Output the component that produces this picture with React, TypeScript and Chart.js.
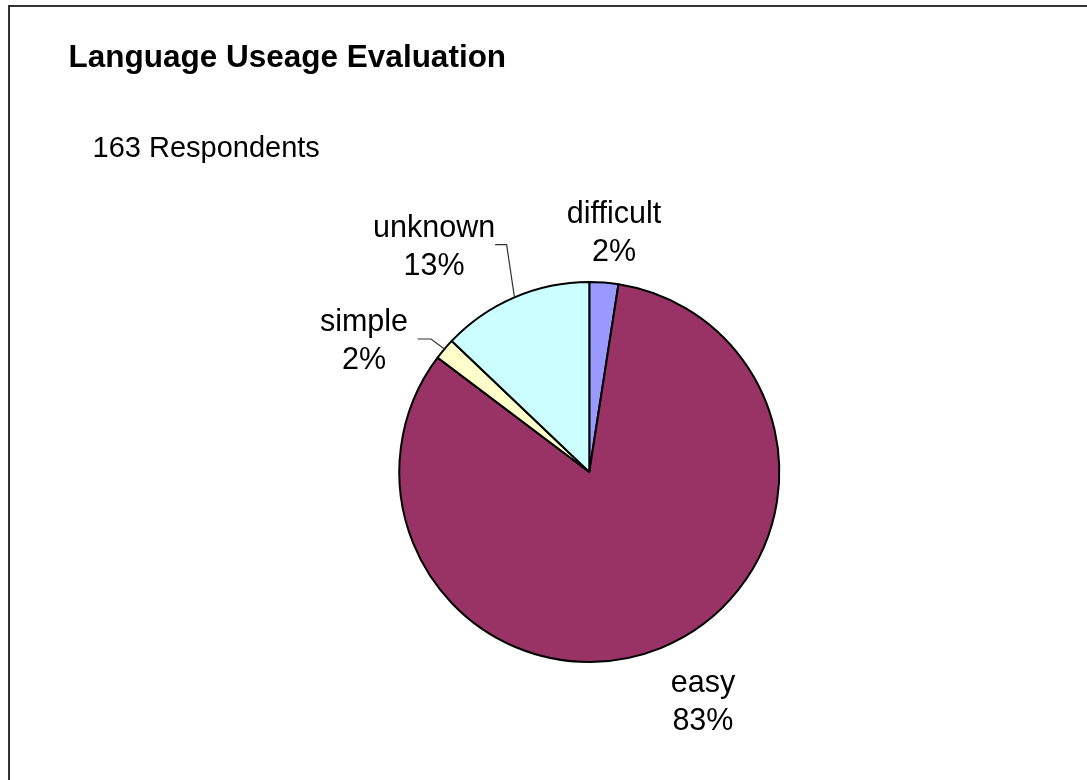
import React, { useEffect, useRef } from "react";
import { Chart, registerables } from "chart.js";

Chart.register(...registerables);

const categories = ["difficult", "easy", "simple", "unknown"];
const respondents = [4, 135, 3, 21];
const sliceColors = ["#9999FF", "#993366", "#FFFFCC", "#CCFFFF"];
const chartTitle = "Language Useage Evaluation";
const chartSubtitle = "163 Respondents";

// label block centres, as fractions of the pie radius from the pie centre
const labelOffsets: [number, number][] = [
  [0.13, -1.271],
  [0.598, 1.2],
  [-1.186, -0.7],
  [-0.817, -1.197],
];
// leader lines (gap from text edge, length of horizontal segment)
const leaders: ({ gap: number; knee: number } | null)[] = [
  null,
  null,
  { gap: 9.5, knee: 13.5 },
  { gap: 0, knee: 11.5 },
];

const FONT = "'Liberation Sans', Arial, sans-serif";

const decorPlugin = {
  id: "decor",
  beforeDraw(chart: any) {
    const ctx = chart.ctx;
    ctx.save();
    ctx.fillStyle = "#ffffff";
    ctx.fillRect(0, 0, chart.width, chart.height);
    ctx.strokeStyle = "#333333";
    ctx.lineWidth = 2;
    ctx.strokeRect(9, 6, 2000, 2000);
    ctx.fillStyle = "#000000";
    ctx.textAlign = "left";
    ctx.textBaseline = "alphabetic";
    ctx.font = `bold 31.5px ${FONT}`;
    ctx.fillText(chartTitle, 68.5, 67);
    ctx.font = `29px ${FONT}`;
    ctx.fillText(chartSubtitle, 92.5, 157);
    ctx.restore();
  },
  afterDraw(chart: any) {
    const ctx = chart.ctx;
    const meta = chart.getDatasetMeta(0);
    const data = chart.data.datasets[0].data as number[];
    const total = data.reduce((a, b) => a + b, 0);
    ctx.save();
    ctx.font = `30.5px ${FONT}`;
    ctx.fillStyle = "#000000";
    ctx.textAlign = "center";
    ctx.textBaseline = "alphabetic";
    meta.data.forEach((arc: any, i: number) => {
      const p = arc.getProps(["x", "y", "startAngle", "endAngle", "outerRadius"], true);
      const r = p.outerRadius;
      const ax = p.x + labelOffsets[i][0] * r;
      const ay = p.y + labelOffsets[i][1] * r;
      const line1 = String(chart.data.labels[i]);
      const line2 = Math.round((data[i] / total) * 100) + "%";
      ctx.fillText(line1, ax, ay - 8);
      ctx.fillText(line2, ax, ay + 30);
      const ld = leaders[i];
      if (ld) {
        const hw = Math.max(ctx.measureText(line1).width, ctx.measureText(line2).width) / 2;
        const mid = (p.startAngle + p.endAngle) / 2;
        const ex = p.x + Math.cos(mid) * r;
        const ey = p.y + Math.sin(mid) * r;
        const sx = ax + hw + ld.gap;
        ctx.strokeStyle = "#333333";
        ctx.lineWidth = 1.2;
        ctx.beginPath();
        ctx.moveTo(sx, ay);
        ctx.lineTo(sx + ld.knee, ay);
        ctx.lineTo(ex, ey);
        ctx.stroke();
      }
    });
    ctx.restore();
  },
};

export default function App() {
  const canvasRef = useRef<HTMLCanvasElement | null>(null);

  useEffect(() => {
    const canvas = canvasRef.current;
    if (!canvas) return;
    const chart = new Chart(canvas, {
      type: "pie",
      data: {
        labels: categories,
        datasets: [
          {
            data: respondents,
            backgroundColor: sliceColors,
            borderColor: "#000000",
            borderWidth: 2,
          },
        ],
      },
      options: {
        responsive: false,
        animation: false,
        devicePixelRatio: 1,
        layout: {
          padding: { left: 398.3, right: 306.7, top: 281, bottom: 117 },
        },
        plugins: {
          legend: { display: false },
          tooltip: { enabled: false },
          title: { display: false },
        },
      },
      plugins: [decorPlugin],
    });
    return () => chart.destroy();
  }, []);

  return (
    <canvas
      ref={canvasRef}
      width={1087}
      height={780}
      style={{ position: "fixed", left: 0, top: 0, width: 1087, height: 780 }}
    />
  );
}
